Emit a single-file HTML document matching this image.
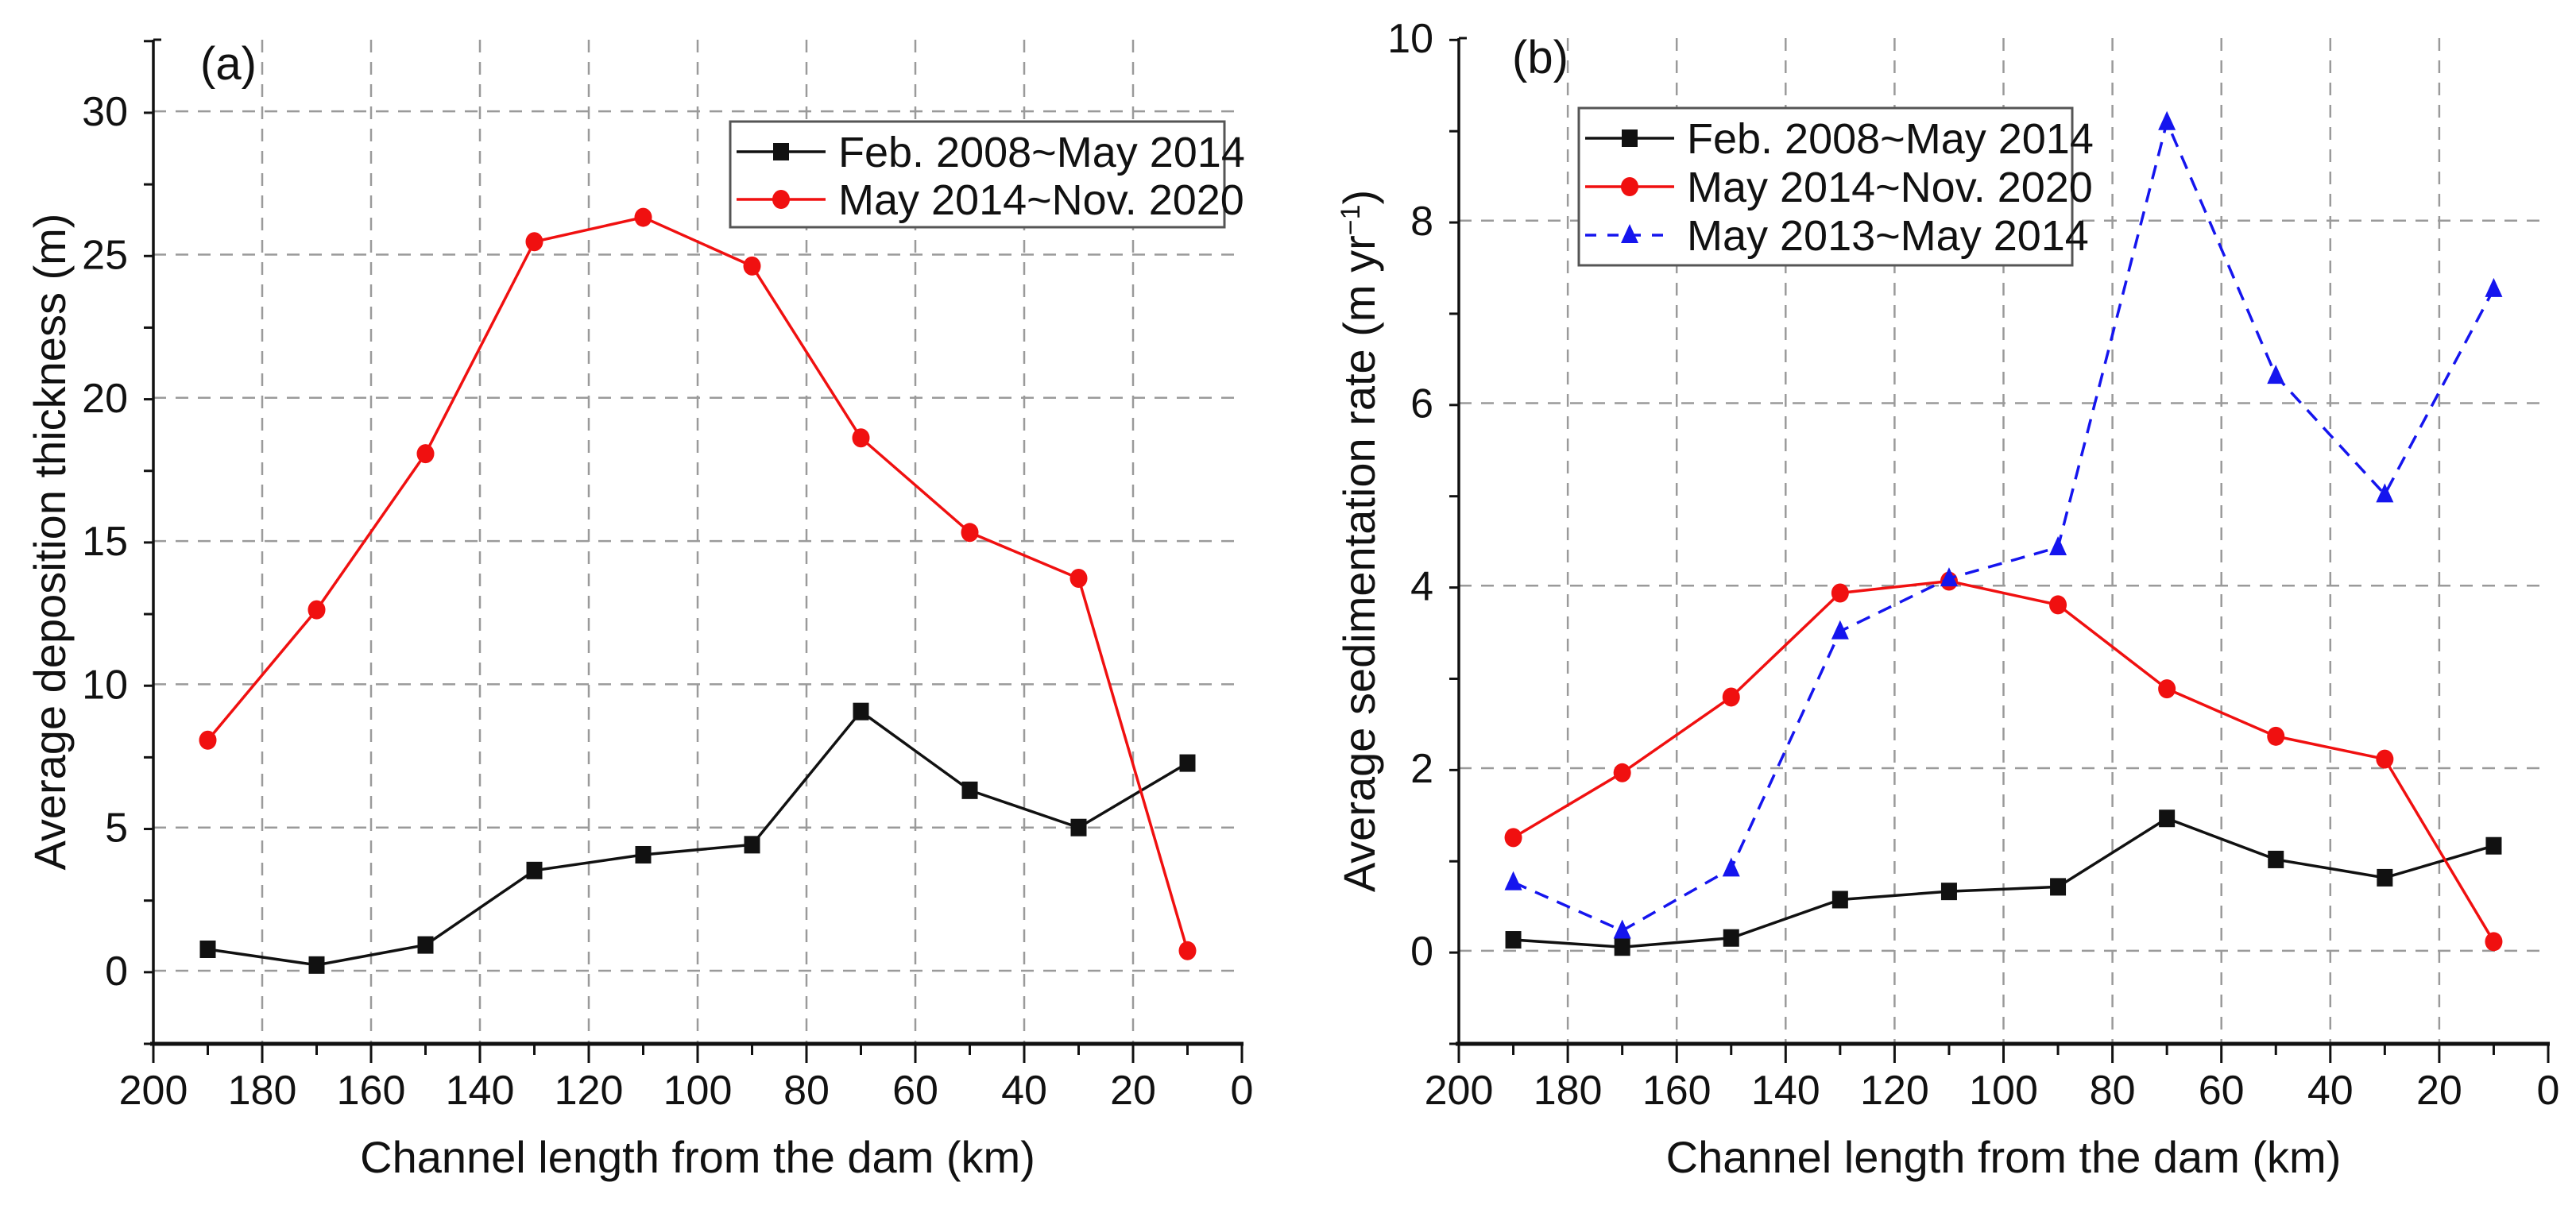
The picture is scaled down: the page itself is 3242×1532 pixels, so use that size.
<!DOCTYPE html>
<html><head><meta charset="utf-8"><style>
body{margin:0;background:#fff}
svg{display:block;font-family:"Liberation Sans Narrow","Liberation Sans",sans-serif}
</style></head><body>
<svg id="c" width="3242" height="1532" viewBox="0 0 3242 1532"></svg>
<script>
const xs=[190,170,150,130,110,90,70,50,30,10];
const aBlack=[0.75,0.2,0.9,3.5,4.05,4.4,9.05,6.3,5.0,7.25];
const aRed=[8.05,12.6,18.05,25.45,26.3,24.6,18.6,15.3,13.7,0.7];
const bBlack=[0.12,0.04,0.14,0.56,0.65,0.7,1.45,1.0,0.8,1.15];
const bRed=[1.24,1.95,2.78,3.92,4.05,3.79,2.87,2.35,2.1,0.1];
const bBlue=[0.75,0.22,0.9,3.5,4.08,4.42,9.08,6.3,5.0,7.25];
const xTicks=[200,180,160,140,120,100,80,60,40,20,0];
const aYTicks=[0,5,10,15,20,25,30];
const bYTicks=[0,2,4,6,8,10];
const legA=["Feb. 2008~May 2014","May 2014~Nov. 2020"];
const legB=["Feb. 2008~May 2014","May 2014~Nov. 2020","May 2013~May 2014"];

const NS="http://www.w3.org/2000/svg";
const svg=document.getElementById('c');
function el(t,a,p){const e=document.createElementNS(NS,t);for(const k in a)e.setAttribute(k,a[k]);(p||svg).appendChild(e);return e;}

function panel(o){
  const g=el('g',{});
  
  
  const X=v=>o.x0+(o.x1-o.x0)*(200-v)/200;
  const Y=v=>o.yb-(o.yb-o.yt)*(v-o.ymin)/(o.ymax-o.ymin);
  // grid
  xTicks.forEach(t=>{if(t!==200&&t!==0){const l=el('line',{x1:X(t),x2:X(t),y1:o.yt,y2:o.yb,stroke:'#9a9a9a','stroke-width':2.5,'stroke-dasharray':'16 12'},g);
    }});
  o.yticks.forEach(t=>{if(Y(t)>o.yt+2){const l=el('line',{x1:o.x0,x2:o.x1,y1:Y(t),y2:Y(t),stroke:'#9a9a9a','stroke-width':2.5,'stroke-dasharray':'16 12'},g);
    }});
  // axes
  const ya=el('line',{x1:o.x0,x2:o.x0,y1:o.yt,y2:o.yb,stroke:'#111','stroke-width':3.5},g);
  
  const xa=el('line',{x1:o.x0-4,x2:o.x1+2,y1:o.yb,y2:o.yb,stroke:'#111','stroke-width':5},g);
  
  for(let v=200;v>=0;v-=10){el('line',{x1:X(v),x2:X(v),y1:o.yb,y2:o.yb+(v%20===0?24:14),stroke:'#111','stroke-width':3},g);}
  xTicks.forEach(t=>{const tx=el('text',{x:X(t),y:o.yb+76,'font-size':52,'text-anchor':'middle',fill:'#111'},g);tx.textContent=t;
    });
  const step=o.yticks[1]-o.yticks[0];
  for(let v=o.ymin;v<=o.ymax+1e-9;v+=step/2){const major=Math.abs(v/step-Math.round(v/step))<1e-6;
    if(Y(v)<o.yt-1)continue;el('line',{x1:o.x0-(major?20:12),x2:o.x0,y1:Y(v),y2:Y(v),stroke:'#111','stroke-width':3},g);}
  el('line',{x1:o.x0,x2:o.x0+10,y1:o.yt,y2:o.yt,stroke:'#111','stroke-width':3},g);
  o.yticks.forEach(t=>{const tx=el('text',{x:o.x0-32,y:Y(t)+18,'font-size':52,'text-anchor':'end',fill:'#111'},g);tx.textContent=t;
    });
  const xt=el('text',{x:(o.x0+o.x1)/2,y:1476,'font-size':56,'text-anchor':'middle',fill:'#111'},g);xt.textContent='Channel length from the dam (km)';
  
  const yt=el('text',{x:0,y:0,'font-size':56,'text-anchor':'middle',fill:'#111',transform:`translate(${o.ytx},${(o.yt+o.yb)/2}) rotate(-90)`},g);
  yt.innerHTML=o.ytitle;
  
  const pl=el('text',{x:o.lx,y:o.ly,'font-size':58,fill:'#111'},g);pl.textContent=o.label;
  
  // series
  o.series.forEach(s=>{
    const sg=el('g',{},g);
    
    const pts=xs.map((x,i)=>X(x)+','+Y(s.v[i])).join(' ');
    el('polyline',{points:pts,fill:'none',stroke:s.c,'stroke-width':3.5,'stroke-dasharray':s.dash||'none'},sg);
    xs.forEach((x,i)=>{marker(sg,s.m,X(x),Y(s.v[i]),s.c);});
  });
  // legend
  const lg=el('g',{},g);
  
  el('rect',{x:o.leg[0],y:o.leg[1],width:o.leg[2],height:o.leg[3],fill:'#fff',stroke:'#555','stroke-width':3},lg);
  o.series.forEach((s,i)=>{
    const e=el('g',{},lg);
    
    const yy=o.leg[1]+o.leg4+i*o.legStep;const lx=o.leg[0]+8;
    el('line',{x1:lx,x2:lx+112,y1:yy,y2:yy,stroke:s.c,'stroke-width':3.5,'stroke-dasharray':s.dash?'14 14':'none'},e);
    marker(e,s.m,lx+56,yy,s.c);
    const t=el('text',{x:lx+128,y:yy+19,'font-size':54,fill:'#111'},e);t.textContent=o.legTexts[i];
  });
}
function marker(p,m,x,y,c){
  if(m==='s')el('rect',{x:x-10,y:y-11,width:20,height:22,fill:c},p);
  else if(m==='o')el('ellipse',{cx:x,cy:y,rx:11,ry:12,fill:c},p);
  else el('polygon',{points:`${x},${y-14} ${x-11},${y+10} ${x+11},${y+10}`,fill:c},p);
}
panel({name:'panel-a',x0:193,x1:1563,yt:50,yb:1314,ymin:-2.55,ymax:32.5,yticks:aYTicks,ytx:82,
  ytitle:'Average deposition thickness (m)',label:'(a)',lx:252,ly:100,
  series:[{name:'series-feb2008-may2014',v:aBlack,c:'#111',m:'s'},{name:'series-may2014-nov2020',v:aRed,c:'#f01010',m:'o'}],
  leg:[919,153,622,133],leg4:38,legStep:60,legTexts:legA});
panel({name:'panel-b',x0:1836,x1:3207,yt:48,yb:1314,ymin:-1.02,ymax:10,yticks:bYTicks,ytx:1730,
  ytitle:'Average sedimentation rate (m yr<tspan baseline-shift="super" font-size="34">−1</tspan>)',label:'(b)',lx:1903,ly:92,
  series:[{name:'series-feb2008-may2014',v:bBlack,c:'#111',m:'s'},{name:'series-may2014-nov2020',v:bRed,c:'#f01010',m:'o'},{name:'series-may2013-may2014',v:bBlue,c:'#1515ee',m:'t',dash:'18 12'}],
  leg:[1987,136,621,198],leg4:38,legStep:61,legTexts:legB});
</script>
</body></html>
